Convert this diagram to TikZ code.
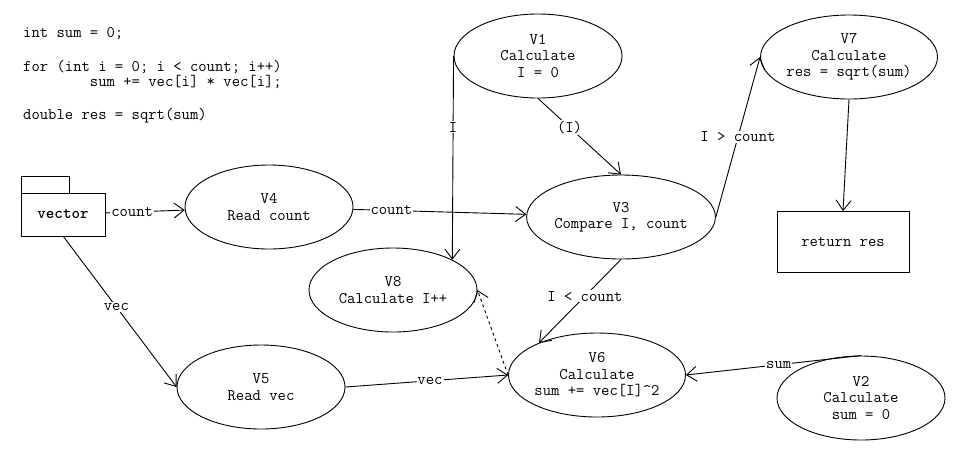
\documentclass[tikz,border=0pt]{standalone}
\usepackage{fontspec}
\usepackage{tikz}
\usetikzlibrary{positioning}
\usetikzlibrary{shapes.geometric}
\usetikzlibrary{arrows.meta}
\tikzstyle{ell}=[ellipse,draw,line width=0.9pt,minimum width=168pt,minimum height=84pt,inner sep=0pt,align=center]
\tikzstyle{lbl}=[fill=white,inner sep=1pt]
\tikzstyle{ln}=[->,line width=0.9pt]
\tikzset{>={Straight Barb[length=10pt,width=15pt]}}

\begin{document}
\begin{tikzpicture}[x=1pt,y=-1pt,font=\ttfamily\fontsize{16.2}{16.5}\selectfont]

    \useasboundingbox (0,0) rectangle (973,472);

    % source code
    \node[anchor=base west,inner sep=0pt] (code1) at (23,37) {int sum = 0;};
    \node[anchor=base west,inner sep=0pt] (code2) at (23,71) {for (int i = 0; i < count; i++)};
    \node[anchor=base west,inner sep=0pt] (code3) at (23,86) {\phantom{12345678}sum += vec[i] * vec[i];};
    \node[anchor=base west,inner sep=0pt] (code4) at (23,119) {double res = sqrt(sum)};

    % the input package
    \node[draw,line width=0.9pt,outer sep=0pt,minimum width=84pt,minimum height=43pt,font=\ttfamily\bfseries\fontsize{16.2}{16.5}\selectfont] (vecbox) at (63,214.5) {vector};
    \draw[line width=0.9pt] (vecbox.north west) rectangle ++(48,-17);

    % vertices
    \node[ell] (v1) at (538,56) {V1\\Calculate\\I = 0};
    \node[ell] (v7) at (849,57) {V7\\Calculate\\res = sqrt(sum)};
    \node[ell] (v4) at (269,207) {V4\\Read count};
    \node[ell] (v3) at (621,217) {V3\\Compare I, count};
    \node[ell] (v8) at (393,290) {V8\\Calculate I++};
    \node[ell] (v6) at (597,375) {V6\\Calculate\\sum += vec[I]\textasciicircum 2};
    \node[ell] (v5) at (261,387) {V5\\Read vec};
    \node[ell] (v2) at (861,398) {V2\\Calculate\\sum = 0};
    \node[draw,line width=0.9pt,minimum width=132pt,minimum height=61pt] (ret) at (843,242) {return res};

    % data flow
    \draw[ln] (vecbox) -- node[lbl,pos=0.34] {count} (v4);
    \draw[ln] (v4) -- node[lbl,pos=0.22] {count} (v3);
    \draw[ln] (v1.west) -- node[lbl,pos=0.35] {I} (v8.27);
    \draw[ln] (v1.south) -- node[lbl,pos=0.38] {(I)} (v3.north);
    \draw[ln] (v3.east) -- node[lbl,pos=0.5] {I > count} (v7.west);
    \draw[ln] (v7.south) -- (ret.north);
    \draw[ln] (v3.south) -- node[lbl,pos=0.44] {I < count} (v6.151);
    \draw[ln,dashed] (v6.west) -- (v8.east);
    \draw[ln] (v5.east) -- node[lbl,pos=0.52] {vec} (v6.west);
    \draw[ln] (vecbox.south) -- node[lbl,pos=0.47] {vec} (v5.west);
    \draw[ln] (v2.north) -- node[lbl,pos=0.47] {sum} (v6.east);

\end{tikzpicture}
\end{document}
